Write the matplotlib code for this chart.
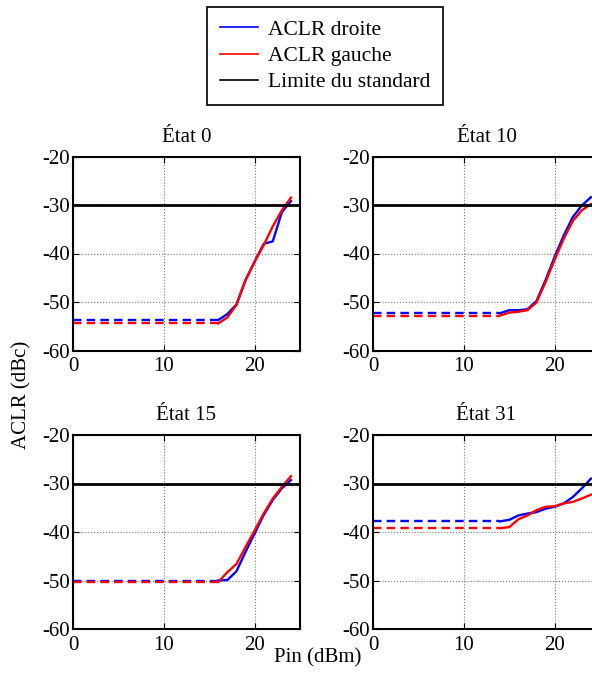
import numpy as np
import matplotlib
matplotlib.use("Agg")
import matplotlib.pyplot as plt
from matplotlib.lines import Line2D

plt.rcParams['font.family'] = ['Liberation Serif', 'DejaVu Serif']
plt.rcParams['font.size'] = 15
plt.rcParams['axes.unicode_minus'] = False

# donnees
titres = ['État 0', 'État 10', 'État 15', 'État 31']
pin = np.arange(14, 25)  # points mesures (dBm)
debut = [16, 14, 16, 14]  # debut de la partie mesuree (trait plein)

droite = [
    [np.nan, np.nan, -53.7, -52.5, -50.5, -45.5, -41.7, -38.0, -37.5, -31.5, -29.2],
    [-52.3, -51.7, -51.7, -51.5, -49.8, -45.5, -40.7, -36.3, -32.5, -30.1, -28.4],
    [np.nan, np.nan, -50.0, -49.9, -48.1, -44.1, -40.3, -36.5, -33.4, -31.0, -29.3],
    [-37.8, -37.5, -36.6, -36.2, -35.9, -35.2, -34.8, -34.1, -32.8, -31.0, -29.0],
]
gauche = [
    [np.nan, np.nan, -54.4, -53.2, -50.6, -45.5, -41.7, -38.3, -34.4, -31.1, -28.5],
    [-52.8, -52.2, -52.0, -51.7, -50.1, -45.9, -41.3, -37.0, -33.3, -31.1, -29.8],
    [np.nan, np.nan, -50.3, -48.3, -46.6, -43.1, -39.7, -36.2, -33.1, -30.7, -28.5],
    [-39.2, -39.0, -37.4, -36.6, -35.5, -34.8, -34.7, -34.1, -33.8, -33.1, -32.3],
]
limite = -30
xlim = [0, 25]
ylim = [-60, -20]

W, H = 592, 676
fig = plt.figure(figsize=(W / 100, H / 100), dpi=100)

# positions des axes (pixels) : gauche, bas (y de -60)
pos = [(73, 350.5), (373, 350.5), (73, 629), (373, 629)]
aw, ah = 227, 194

for k in range(4):
    x0, yb = pos[k]
    ax = fig.add_axes([x0 / W, (H - yb) / H, aw / W, ah / H])
    d = np.array(droite[k]); g = np.array(gauche[k])
    i0 = list(pin).index(debut[k])
    # extrapolation en pointilles
    ax.plot([0, debut[k]], [d[i0], d[i0]], '--', color='blue', lw=1.7, dashes=(3.6, 2.2))
    ax.plot([0, debut[k]], [g[i0], g[i0]], '--', color='red', lw=1.7, dashes=(3.6, 2.2))
    ax.plot(pin[i0:], d[i0:], color='blue', lw=1.7)
    ax.plot(pin[i0:], g[i0:], color='red', lw=1.7)
    ax.plot(xlim, [limite, limite], color='black', lw=2)
    ax.set_xlim(xlim)
    ax.set_ylim(ylim)
    ax.set_xticks([0, 10, 20])
    ax.set_yticks(np.arange(-60, -19, 10))
    ax.grid(True, linestyle=':', color='#777777', lw=0.8)
    ax.tick_params(direction='in', top=True, right=True, length=4, labelsize=15)
    ax.tick_params(axis='x', pad=5)
    ax.tick_params(axis='y', pad=2)
    for s in ax.spines.values():
        s.set_linewidth(1.5)
    ax.set_title(titres[k], fontsize=15, pad=10.5)

fig.text(22 / W, 1 - 395 / H, 'ACLR (dBc)', rotation=90, va='center', ha='center', fontsize=15)
fig.text(318 / W, 1 - 658 / H, 'Pin (dBm)', va='center', ha='center', fontsize=15)

handles = [Line2D([], [], color='blue', lw=1.2),
           Line2D([], [], color='red', lw=1.2),
           Line2D([], [], color='black', lw=1.2)]
leg = fig.legend(handles, ['ACLR droite', 'ACLR gauche', 'Limite du standard'],
                 loc='upper center', bbox_to_anchor=(325 / W, 1 - 7 / H), fontsize=15.5,
                 fancybox=False, edgecolor='black', framealpha=1, handlelength=1.8,
                 handletextpad=0.45, labelspacing=0.28, borderpad=0.6, borderaxespad=0)
leg.get_frame().set_linewidth(1.2)

fig.savefig('out.png', dpi=100)
